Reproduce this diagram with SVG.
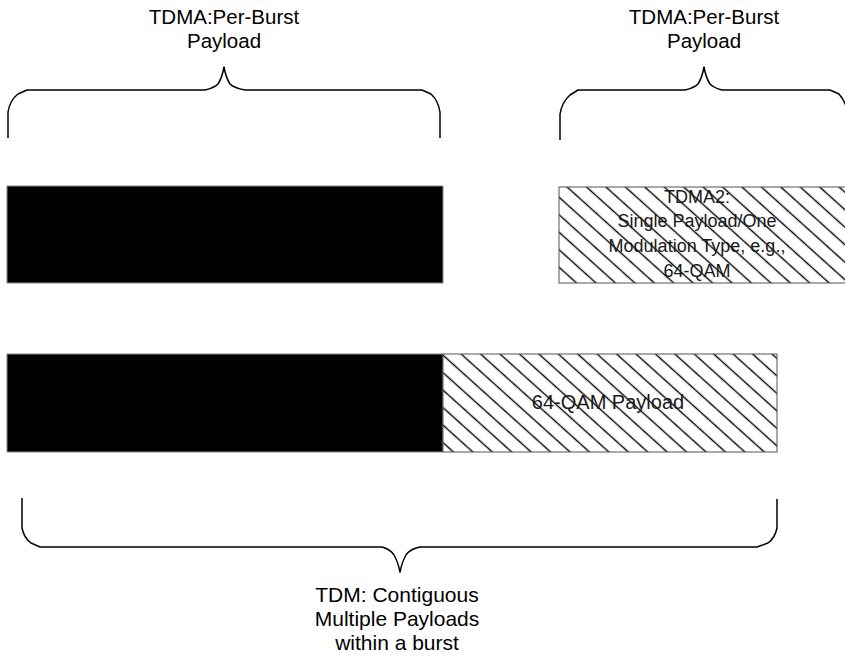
<svg xmlns="http://www.w3.org/2000/svg" width="845" height="657" viewBox="0 0 845 657">
  <style>
    .lbl { font-family: "Liberation Sans", Arial, sans-serif; fill: #000; text-anchor: middle; }
    .in { font-family: "Liberation Sans", Arial, sans-serif; fill: #1a1a1a; text-anchor: middle; }
    .brace { fill: none; stroke: #000; stroke-width: 1.5; stroke-linejoin: round; }
    .solid { fill: #000; stroke: #888; stroke-width: 1; }
    .hatched { fill: url(#hatch); stroke: #555; stroke-width: 1; }
  </style>
  <defs>
    <pattern id="hatch" patternUnits="userSpaceOnUse" width="13" height="13" patternTransform="rotate(42)">
      <rect width="13" height="13" fill="#fff"/>
      <line x1="0" y1="6.5" x2="13" y2="6.5" stroke="#000" stroke-width="1.4"/>
    </pattern>
  </defs>
  <rect width="845" height="657" fill="#fff"/>

  <g id="braces">
    <path class="brace" d="M8,138 L8,112 Q10,100 18,94 L27,90 L205,90 Q214,88 218,84 Q222,78 224,67 Q226,78 230,84 Q234,88 245,90 L422,90 L431,94 Q438,100 440,112 L440,138"/>
    <path class="brace" d="M560,140 L560,114 Q562,102 570,95 L578,90 L685,90 Q694,88 698,84 Q702,78 704,67 Q706,78 710,84 Q714,88 722,90 L830,90 L839,94 Q846,102 848,114 L848,140"/>
    <path class="brace" d="M22,498 L22,528 Q24,538 31,543 L40,547 L382,547 Q390,549 394,555 Q398,562 400,572 Q402,562 406,555 Q410,549 420,547 L757,547 L768,543 Q775,538 777,528 L777,499"/>
  </g>

  <g id="top-left-label">
    <text class="lbl" x="224" y="24" font-size="20.5">TDMA:Per-Burst</text>
    <text class="lbl" x="224" y="48" font-size="20.5">Payload</text>
  </g>
  <g id="top-right-label">
    <text class="lbl" x="704" y="24" font-size="20.5">TDMA:Per-Burst</text>
    <text class="lbl" x="704" y="48" font-size="20.5">Payload</text>
  </g>

  <g id="tdma1-burst">
    <rect class="solid" x="7" y="186" width="436" height="97"/>
  </g>

  <g id="tdma2-burst">
    <rect class="hatched" x="559" y="187" width="295" height="96"/>
    <text class="in" x="697" y="203" font-size="18">TDMA2:</text>
    <text class="in" x="697" y="227" font-size="18">Single Payload/One</text>
    <text class="in" x="697" y="252" font-size="18">Modulation Type, e.g.,</text>
    <text class="in" x="697" y="277" font-size="18">64-QAM</text>
  </g>

  <g id="tdm-preamble">
    <rect class="solid" x="7" y="354" width="436" height="98"/>
  </g>
  <g id="tdm-payload">
    <rect class="hatched" x="443" y="354" width="334" height="98"/>
    <text class="in" x="608" y="409" font-size="20">64-QAM Payload</text>
  </g>

  <g id="bottom-label">
    <text class="lbl" x="397" y="602" font-size="21">TDM: Contiguous</text>
    <text class="lbl" x="397" y="626" font-size="21">Multiple Payloads</text>
    <text class="lbl" x="397" y="650" font-size="21">within a burst</text>
  </g>
</svg>
